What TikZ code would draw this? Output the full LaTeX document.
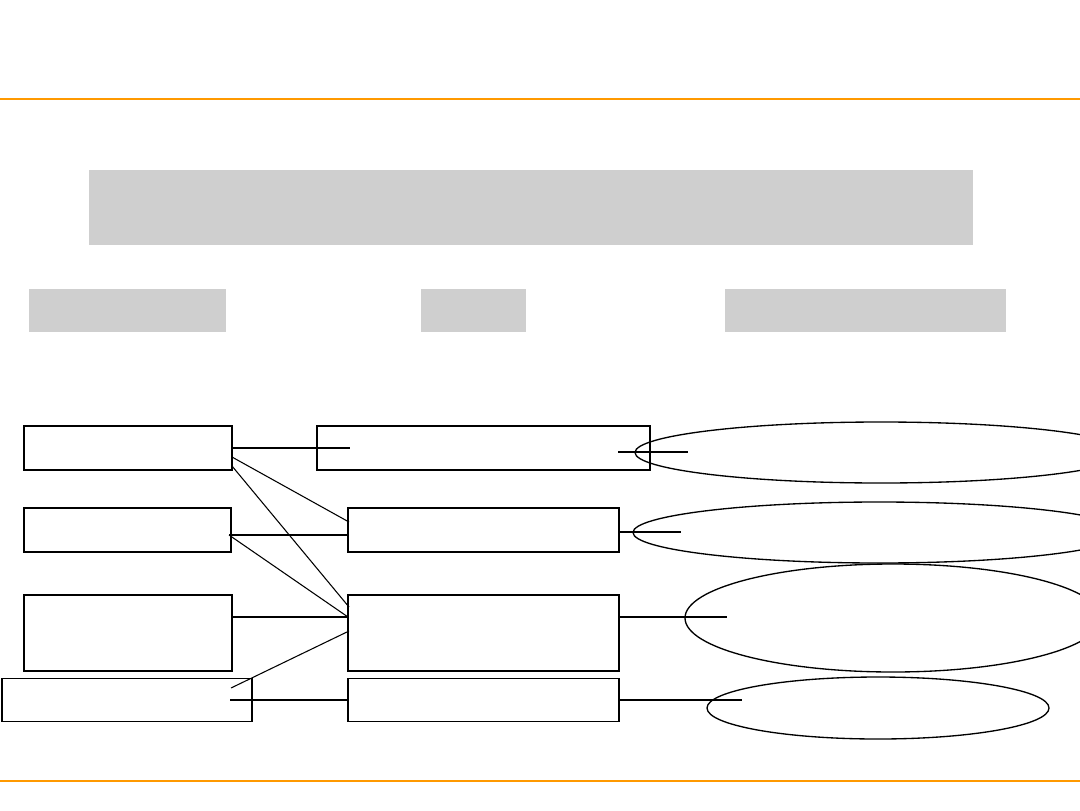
\documentclass[tikz,border=0pt]{standalone}
\usetikzlibrary{calc,shapes.geometric}
\definecolor{rule}{RGB}{255,153,0}
\definecolor{band}{RGB}{207,207,207}
\begin{document}
\begin{tikzpicture}[x=0.75pt,y=-0.75pt,
  boxa/.style={draw=black,line width=1.4pt,rectangle,inner sep=0pt,outer sep=0pt},
  boxb/.style={draw=black,line width=1.0pt,rectangle,inner sep=0pt,outer sep=0pt},
  oval/.style={draw=black,line width=1.0pt,ellipse,inner sep=0pt,outer sep=0pt},
  band/.style={fill=band,draw=none,rectangle,inner sep=0pt,outer sep=0pt},
  link/.style={draw=black,line width=0.8pt},
  heavy/.style={draw=black,line width=1.5pt}]
\useasboundingbox (0,0) rectangle (1080,810);
\clip (0,0) rectangle (1080,810);
\fill[white] (0,0) rectangle (1080,810);
% orange rules
\coordinate (r1a) at (0,99); \coordinate (r1b) at (1080,99);
\coordinate (r2a) at (0,781); \coordinate (r2b) at (1080,781);
\draw[rule,line width=1.5pt] (r1a) -- (r1b);
\draw[rule,line width=1.5pt] (r2a) -- (r2b);
% gray bands
\node[band,minimum width=663pt,minimum height=56.25pt] (G0) at (531,207.5) {};
\node[band,minimum width=147.75pt,minimum height=32.25pt] (G1) at (127.5,310.5) {};
\node[band,minimum width=78.75pt,minimum height=32.25pt] (G2) at (473.5,310.5) {};
\node[band,minimum width=210.75pt,minimum height=32.25pt] (G3) at (865.5,310.5) {};
% left boxes
\node[boxa,minimum width=156pt,minimum height=33pt] (L1) at (128,448) {};
\node[boxb,minimum width=155.25pt,minimum height=33pt] (L2) at (127.5,530) {};
\node[boxa,minimum width=156pt,minimum height=57pt] (L3) at (128,633) {};
\node[boxb,minimum width=187.5pt,minimum height=32.25pt] (L4) at (127,700) {};
% middle boxes
\node[boxb,minimum width=249.75pt,minimum height=33pt] (M1) at (483.5,448) {};
\node[boxb,minimum width=203.25pt,minimum height=33pt] (M2) at (483.5,530) {};
\node[boxa,minimum width=203.25pt,minimum height=57pt] (M3) at (483.5,633) {};
\node[boxb,minimum width=203.25pt,minimum height=32.25pt] (M4) at (483.5,700) {};
% ellipses
\node[oval,minimum width=369pt,minimum height=45.75pt] (E1) at (881,452.5) {};
\node[oval,minimum width=369pt,minimum height=45.75pt] (E2) at (879,532.5) {};
\node[oval,minimum width=312pt,minimum height=81pt] (E3) at (893,618) {};
\node[oval,minimum width=256.5pt,minimum height=46.5pt] (E4) at (878,708) {};
% connectors left -> middle
\draw[heavy] (L1.east) -- ($(M1.west)+(33,0)$);
\draw[link] ($(L1.east)+(0,9)$) -- ($(M2.west)+(1,-8)$);
\draw[link] ($(L1.east)+(0,18)$) -- ($(M3.west)+(1,-26)$);
\draw[link] ($(L2.east)+(-2,5)$) -- ($(M2.west)+(0,5)$);
\draw[link] ($(L2.east)+(-2,5)$) -- ($(M3.west)+(0,-16)$);
\draw[link] ($(L3.east)+(0,-16)$) -- ($(M3.west)+(0,-16)$);
\draw[link] ($(L4.east)+(-21,-12)$) -- ($(M3.west)+(1,-2)$);
\draw[link] ($(L4.east)+(-22,0)$) -- (M4.west);
% connectors middle -> ellipses
\draw[link] ($(M1.east)+(-32,4)$) -- ($(E1.west)+(53,-0.5)$);
\draw[link] ($(M2.east)+(0,2)$) -- ($(E2.west)+(48,-0.5)$);
\draw[link] ($(M3.east)+(0,-16)$) -- ($(E3.west)+(42,-1)$);
\draw[link] (M4.east) -- ($(E4.west)+(35,-8)$);
\end{tikzpicture}
\end{document}
